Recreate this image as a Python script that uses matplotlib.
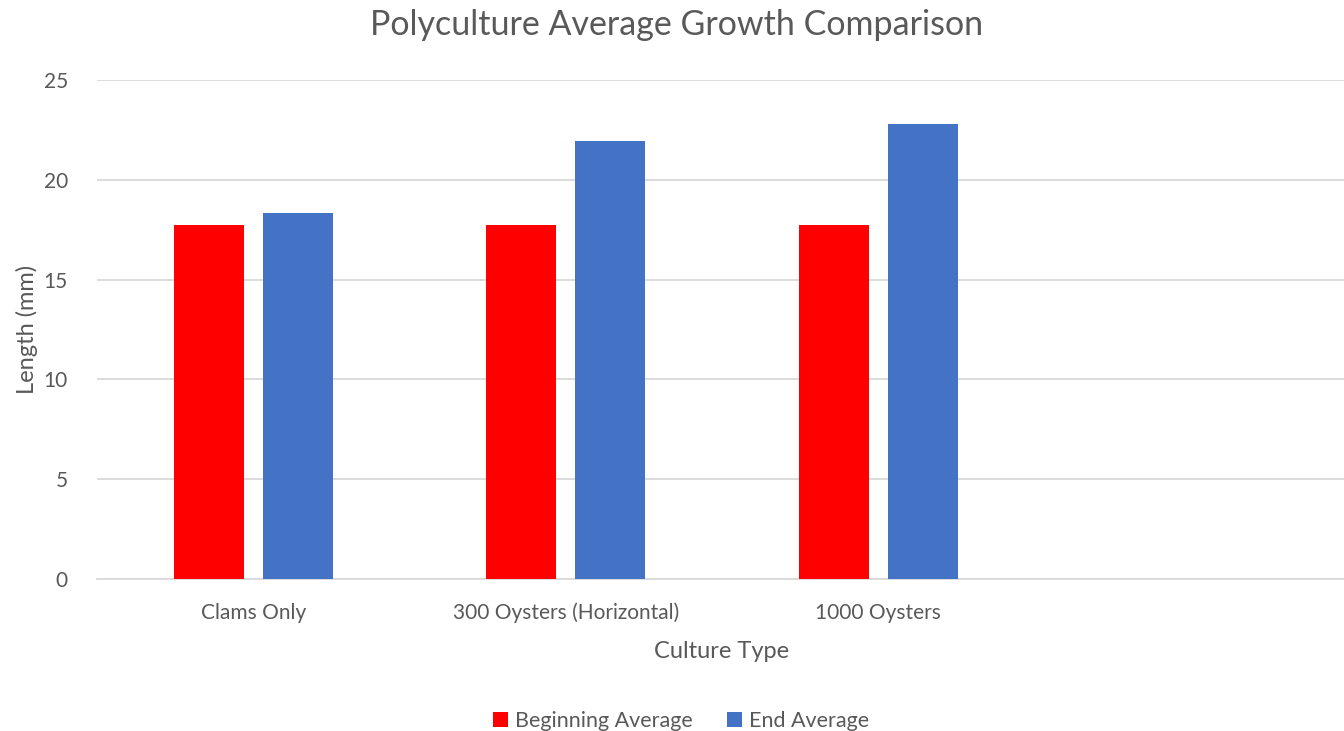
import numpy as np
import matplotlib.pyplot as plt

plt.rcParams['font.family'] = ['Lato', 'DejaVu Sans']

categories = ["Clams Only", "300 Oysters (Horizontal)", "1000 Oysters", ""]
beginning = [17.75, 17.75, 17.75, np.nan]
end = [18.35, 21.95, 22.8, np.nan]
series_names = ["Beginning Average", "End Average"]
colors = ["#ff0000", "#4472c4"]
text_c = "#595959"
grid_c = "#d9d9d9"

fig = plt.figure(figsize=(13.44, 7.31), dpi=100)
ax = fig.add_axes([97 / 1344, 1 - 579 / 731, 1250 / 1344, (579 - 80) / 731])

x = np.arange(len(categories))
w = 0.224
off = 0.143
ax.bar(x - off, beginning, w, color=colors[0], label=series_names[0], zorder=3)
ax.bar(x + off, end, w, color=colors[1], label=series_names[1], zorder=3)

ax.set_xlim(-0.5, len(categories) - 0.5)
ax.set_ylim(0, 25)
ax.set_yticks([0, 5, 10, 15, 20, 25])
ax.set_xticks(x)
ax.set_xticklabels(categories)
ax.yaxis.grid(True, color=grid_c, linewidth=1.3, zorder=0)
ax.set_axisbelow(True)
for s in ["top", "right", "left"]:
    ax.spines[s].set_visible(False)
ax.spines["bottom"].set_color(grid_c)
ax.spines["bottom"].set_linewidth(1.3)
ax.tick_params(axis="both", length=0, labelsize=15, labelcolor=text_c)
ax.tick_params(axis="x", pad=17)
ax.tick_params(axis="y", pad=21)

ax.set_xlabel("Culture Type", fontsize=17, color=text_c, labelpad=13)
ax.set_ylabel("Length (mm)", fontsize=17, color=text_c)
ax.yaxis.set_label_coords((38 - 97) / 1250, 0.5)
fig.text(677 / 1344, 1 - 25 / 731, "Polyculture Average Growth Comparison",
         fontsize=24.5, color=text_c, ha="center", va="center")

fig.legend(loc="center", bbox_to_anchor=(681 / 1344, 1 - 721 / 731), ncol=2,
           frameon=False, fontsize=15.5, labelcolor=text_c, handlelength=0.7,
           handleheight=0.7, handletextpad=0.3, columnspacing=1.6)

fig.savefig("out.png", dpi=100)
